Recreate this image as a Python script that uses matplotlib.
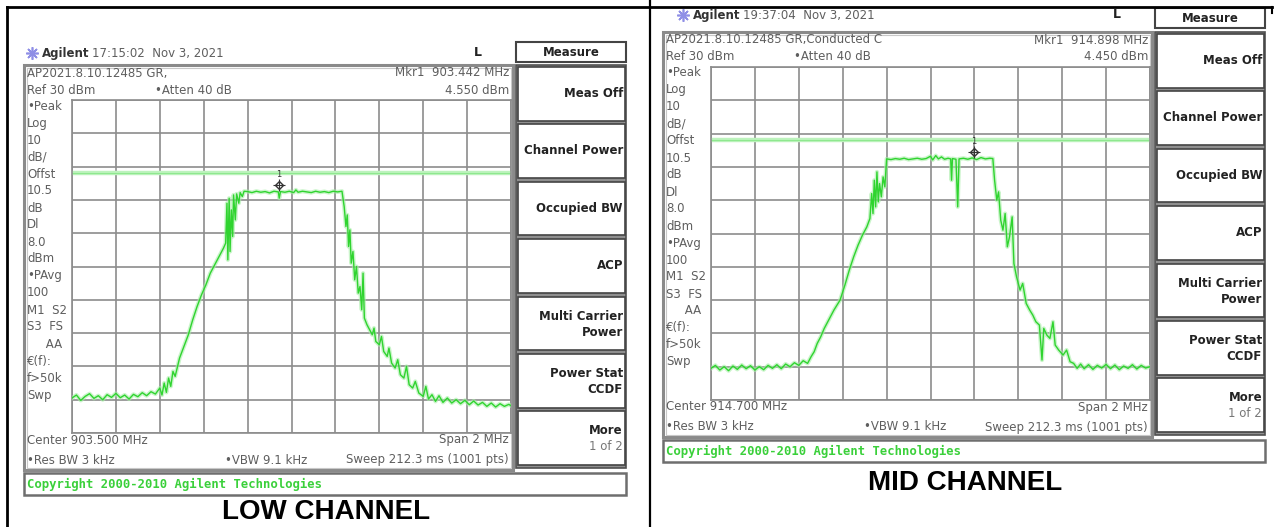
import matplotlib.pyplot as plt
from matplotlib.patches import Rectangle

# LOW channel trace (MHz, dBm)
low_freq = [902.500, 902.520, 902.540, 902.560, 902.580, 902.600, 902.620, 902.640, 902.660, 902.680,
            902.700, 902.720, 902.740, 902.760, 902.780, 902.800, 902.820, 902.840, 902.860, 902.880,
            902.900, 902.910, 902.920, 902.930, 902.940, 902.950, 902.960, 902.970, 902.990, 903.010,
            903.030, 903.050, 903.070, 903.090, 903.110, 903.130, 903.150, 903.170, 903.190, 903.200,
            903.206, 903.210, 903.216, 903.220, 903.226, 903.232, 903.236, 903.244, 903.250, 903.260,
            903.266, 903.276, 903.284, 903.300, 903.320, 903.340, 903.360, 903.380, 903.400, 903.420,
            903.440, 903.444, 903.450, 903.470, 903.490, 903.510, 903.520, 903.530, 903.550, 903.570,
            903.590, 903.610, 903.630, 903.650, 903.670, 903.690, 903.710, 903.730, 903.740, 903.748,
            903.754, 903.760, 903.766, 903.772, 903.780, 903.788, 903.796, 903.804, 903.812, 903.820,
            903.826, 903.832, 903.844, 903.856, 903.868, 903.876, 903.884, 903.900, 903.910, 903.920,
            903.936, 903.944, 903.956, 903.972, 903.984, 903.996, 904.012, 904.024, 904.036, 904.052,
            904.064, 904.080, 904.100, 904.112, 904.124, 904.140, 904.156, 904.172, 904.190, 904.210,
            904.230, 904.250, 904.270, 904.290, 904.310, 904.330, 904.350, 904.370, 904.390, 904.410,
            904.430, 904.450, 904.470, 904.490, 904.500]
low_level = [-59.5, -58.6, -60.2, -59.0, -58.2, -59.6, -58.8, -60.0, -58.5, -59.3,
             -58.1, -59.4, -58.6, -59.8, -58.4, -59.1, -57.9, -58.8, -57.6, -58.3,
             -56.5, -58.6, -55.0, -57.8, -53.5, -56.0, -51.5, -53.0, -47.5, -44.0,
             -40.5, -36.0, -32.0, -28.5, -25.5, -22.0, -19.5, -17.0, -14.5, -13.0,
             -1.0, -18.0, 0.5, -15.5, -3.0, -11.0, 1.5, -6.0, 1.8, -1.0,
             2.2, 1.0, 2.6, 2.5, 2.2, 2.6, 2.3, 2.5, 2.1, 2.6,
             2.4, 0.5, 2.5, 2.3, 2.6, 2.2, 3.0, 2.3, 2.6, 2.4,
             2.2, 2.6, 2.3, 2.5, 2.2, 2.6, 2.4, 2.6, -2.0, -8.0,
             -4.5, -14.0, -9.0, -19.0, -15.5, -24.0, -20.0, -28.0, -26.0, -33.0,
             -22.0, -35.5, -37.5, -39.0, -40.5, -38.5, -42.5, -43.5, -41.0, -45.5,
             -47.0, -44.5, -49.0, -50.5, -48.0, -52.5, -53.5, -50.0, -55.5, -56.5,
             -54.5, -58.0, -59.0, -56.0, -59.8, -58.5, -60.5, -58.8, -60.8, -59.5,
             -61.0, -60.0, -61.2, -60.2, -61.5, -60.4, -61.6, -60.8, -62.0, -61.0,
             -62.2, -61.2, -62.0, -61.4, -61.8]

# MID channel trace (MHz, dBm)
mid_freq = [913.700, 913.720, 913.740, 913.760, 913.780, 913.800, 913.820, 913.840, 913.860, 913.880,
            913.900, 913.920, 913.940, 913.960, 913.980, 914.000, 914.020, 914.040, 914.060, 914.080,
            914.100, 914.120, 914.140, 914.156, 914.170, 914.184, 914.200, 914.216, 914.236, 914.260,
            914.288, 914.310, 914.330, 914.350, 914.370, 914.390, 914.410, 914.424, 914.432, 914.438,
            914.444, 914.450, 914.456, 914.462, 914.468, 914.476, 914.484, 914.492, 914.500, 914.520,
            914.540, 914.560, 914.580, 914.600, 914.620, 914.640, 914.660, 914.680, 914.700, 914.710,
            914.724, 914.736, 914.750, 914.764, 914.780, 914.792, 914.796, 914.800, 914.816, 914.824,
            914.830, 914.850, 914.870, 914.890, 914.910, 914.930, 914.950, 914.970, 914.984, 914.992,
            915.002, 915.010, 915.020, 915.030, 915.040, 915.050, 915.060, 915.072, 915.080, 915.092,
            915.108, 915.120, 915.136, 915.152, 915.166, 915.180, 915.196, 915.208, 915.216, 915.230,
            915.244, 915.258, 915.268, 915.284, 915.304, 915.320, 915.336, 915.352, 915.368, 915.384,
            915.400, 915.420, 915.440, 915.460, 915.480, 915.500, 915.520, 915.540, 915.560, 915.580,
            915.600, 915.620, 915.640, 915.660, 915.680, 915.700]
mid_level = [-60.5, -59.6, -61.0, -60.0, -61.2, -59.8, -60.8, -59.5, -60.6, -59.7,
             -61.0, -60.0, -60.9, -59.6, -60.5, -59.4, -60.6, -59.2, -60.0, -58.8,
             -59.6, -58.2, -59.0, -57.0, -55.5, -53.0, -51.0, -48.5, -46.0, -43.0,
             -40.0, -35.5, -31.0, -27.0, -23.5, -20.5, -18.0, -15.5, -8.0, -14.0,
             -4.0, -12.0, -1.5, -10.5, -5.0, -9.0, -3.0, -6.0, 2.4, 2.2,
             2.5, 2.3, 2.6, 2.2, 2.4, 2.6, 2.3, 2.5, 3.2, 2.1,
             3.4, 2.4, 3.0, 2.3, 2.6, 2.4, -4.0, 2.5, 2.3, -12.0,
             2.4, 2.6, 2.3, 2.7, 2.2, 2.8, 2.4, 2.6, 2.5, -4.0,
             -10.0, -7.5, -16.0, -19.0, -14.0, -24.0, -21.0, -15.0, -29.0, -33.0,
             -37.0, -35.0, -41.0, -43.0, -44.5, -46.5, -47.5, -58.0, -48.5, -50.5,
             -51.5, -46.5, -53.5, -55.0, -56.5, -55.0, -58.5, -59.0, -60.5, -59.2,
             -60.6, -59.4, -60.8, -59.6, -60.4, -59.3, -60.6, -59.5, -60.9, -59.8,
             -60.5, -59.4, -60.7, -59.6, -60.4, -60.0]

low_center = 903.5      # MHz
mid_center = 914.7      # MHz
span = 2.0              # MHz
ref_level = 30          # dBm
display_line = 8.0      # dBm
low_marker = (903.442, 4.55)
mid_marker = (914.898, 4.45)

softkeys = [["Meas Off"], ["Channel Power"], ["Occupied BW"], ["ACP"],
            ["Multi Carrier", "Power"], ["Power Stat", "CCDF"], ["More", "1 of 2"]]
side_labels = ["\u2022Peak", "Log", "10", "dB/", "Offst", "10.5", "dB", "Dl", "8.0", "dBm",
               "\u2022PAvg", "100", "M1  S2", "S3  FS", "     AA", "\u20ac(f):", "f>50k", "Swp"]

GRAY = '#5e5e5e'
GREEN = '#2fd42f'

fig = plt.figure(figsize=(12.76, 5.27), dpi=100)
base = fig.add_axes([0, 0, 1, 1])
base.set_xlim(0, 1276)
base.set_ylim(527, 0)
base.axis('off')

# table borders round the two pictures
base.plot([7, 7], [7, 527], color='black', lw=2)
base.plot([7, 1272], [7, 7], color='black', lw=2)
base.plot([650, 650], [0, 527], color='black', lw=1.6)
base.plot([1272, 1272], [7, 13], color='black', lw=1.5)


def draw_panel(ox, oy, hdr_y, hdr_x, meas_y, clock, title2, center, mkr, freq, level):
    # header line
    base.plot(hdr_x - 10, hdr_y, marker=(8, 2, 0), ms=9, color='#8f8fe6', mew=1.2)
    base.text(hdr_x, hdr_y, "Agilent", fontsize=8.5, fontweight='bold', color='#333333', va='center')
    base.text(hdr_x + 50, hdr_y, clock, fontsize=8.5, color=GRAY, va='center')
    base.text(478 + ox, hdr_y, "L", fontsize=9, fontweight='bold', color='#222222', va='center', ha='center')
    base.add_patch(Rectangle((516 + ox, meas_y), 110, 20, fc='white', ec='#444444', lw=1.5))
    base.text(571 + ox, meas_y + 10, "Measure", fontsize=8.5, fontweight='bold', color='#222222',
              ha='center', va='center')

    # screen frame
    base.add_patch(Rectangle((24 + ox, 65 + oy), 489, 405, fc='white', ec='#8a8a8a', lw=2.2))
    base.add_patch(Rectangle((26.5 + ox, 67.5 + oy), 484, 400, fc='none', ec='#c8c8c8', lw=0.8))

    # screen annotations
    base.text(27 + ox, 73 + oy, title2, fontsize=8.5, color=GRAY, va='center')
    base.text(509 + ox, 73 + oy, "Mkr1  %.3f MHz" % mkr[0], fontsize=8.5, color=GRAY, va='center', ha='right')
    base.text(27 + ox, 90 + oy, "Ref %d dBm" % ref_level, fontsize=8.5, color=GRAY, va='center')
    base.text(155 + ox, 90 + oy, "\u2022Atten 40 dB", fontsize=8.5, color=GRAY, va='center')
    base.text(509 + ox, 90 + oy, "%.3f dBm" % mkr[1], fontsize=8.5, color=GRAY, va='center', ha='right')
    for i, lab in enumerate(side_labels):
        base.text(27 + ox, 106 + oy + 17 * i, lab, fontsize=8.5, color=GRAY, va='center')
    base.text(27 + ox, 440 + oy, "Center %.3f MHz" % center, fontsize=8.5, color=GRAY, va='center')
    base.text(509 + ox, 440 + oy, "Span %d MHz" % span, fontsize=8.5, color=GRAY, va='center', ha='right')
    base.text(27 + ox, 460 + oy, "\u2022Res BW 3 kHz", fontsize=8.5, color=GRAY, va='center')
    base.text(225 + ox, 460 + oy, "\u2022VBW 9.1 kHz", fontsize=8.5, color=GRAY, va='center')
    base.text(509 + ox, 460 + oy, "Sweep 212.3 ms (1001 pts)", fontsize=8.5, color=GRAY, va='center', ha='right')

    # softkey column
    base.add_patch(Rectangle((516 + ox, 65 + oy), 110, 403, fc='#8f8f8f', ec='#505050', lw=1.2))
    for i, key in enumerate(softkeys):
        top = 65 + oy + 57.4 * i
        base.add_patch(Rectangle((517.5 + ox, top + 2), 107, 53.5, fc='white', ec='#444444', lw=1.2))
        if len(key) == 1:
            base.text(623 + ox, top + 28.5, key[0], fontsize=8.5, fontweight='bold', color='#222222',
                      ha='right', va='center')
        else:
            base.text(623 + ox, top + 21.5, key[0], fontsize=8.5, fontweight='bold', color='#222222',
                      ha='right', va='center')
            second_w = 'normal' if key[1] == "1 of 2" else 'bold'
            second_c = '#777777' if key[1] == "1 of 2" else '#222222'
            base.text(623 + ox, top + 37.5, key[1], fontsize=8.5, fontweight=second_w, color=second_c,
                      ha='right', va='center')

    # copyright bar
    base.add_patch(Rectangle((24 + ox, 473 + oy), 602, 22, fc='white', ec='#6e6e6e', lw=1.8))
    base.text(27 + ox, 484 + oy, "Copyright 2000-2010 Agilent Technologies", family='DejaVu Sans Mono',
              fontsize=8.8, fontweight='bold', color='#3ad03a', va='center')

    # trace graticule
    gx, gy = 72 + ox, 100 + oy
    ax = fig.add_axes([gx / 1276, 1 - (gy + 333) / 527, 439 / 1276, 333 / 527])
    ax.set_xlim(center - span / 2, center + span / 2)
    ax.set_ylim(ref_level - 100, ref_level)
    ax.set_xticks([center - span / 2 + span / 10 * k for k in range(11)])
    ax.set_yticks([ref_level - 10 * k for k in range(11)])
    ax.tick_params(length=0, labelbottom=False, labelleft=False)
    ax.grid(True, color='#8c8c8c', lw=1.2)
    for s in ax.spines.values():
        s.set_color('#8c8c8c')
        s.set_linewidth(1.2)
    ax.set_axisbelow(True)
    ax.axhline(display_line, color='#bdf3bd', lw=3.2, zorder=2)
    ax.axhline(display_line, color='#8fe88f', lw=0.8, zorder=2)
    ax.plot(freq, level, color='#a8eea8', lw=3.0, alpha=0.6, zorder=3)
    ax.plot(freq, level, color=GREEN, lw=1.0, zorder=4)
    ax.plot(mkr[0], mkr[1], marker='D', ms=4.5, mfc='none', mec='#333333', mew=1.0, zorder=5)
    ax.plot(mkr[0], mkr[1], marker='+', ms=8, mec='#333333', mew=0.8, zorder=5)
    ax.text(mkr[0], mkr[1] + 3.2, "1", fontsize=6, color='#333333', ha='center', va='center', zorder=5)


draw_panel(0, 0, 53, 42, 42, "17:15:02  Nov 3, 2021", "AP2021.8.10.12485 GR,",
           low_center, low_marker, low_freq, low_level)
draw_panel(639, -33, 15, 693, 8, "19:37:04  Nov 3, 2021", "AP2021.8.10.12485 GR,Conducted C",
           mid_center, mid_marker, mid_freq, mid_level)

# captions under each picture
base.text(326, 512, "LOW CHANNEL", family='Liberation Sans', fontsize=20, fontweight='bold',
          ha='center', va='center')
base.text(965, 483, "MID CHANNEL", family='Liberation Sans', fontsize=20, fontweight='bold',
          ha='center', va='center')

plt.savefig('out.png', dpi=100)
